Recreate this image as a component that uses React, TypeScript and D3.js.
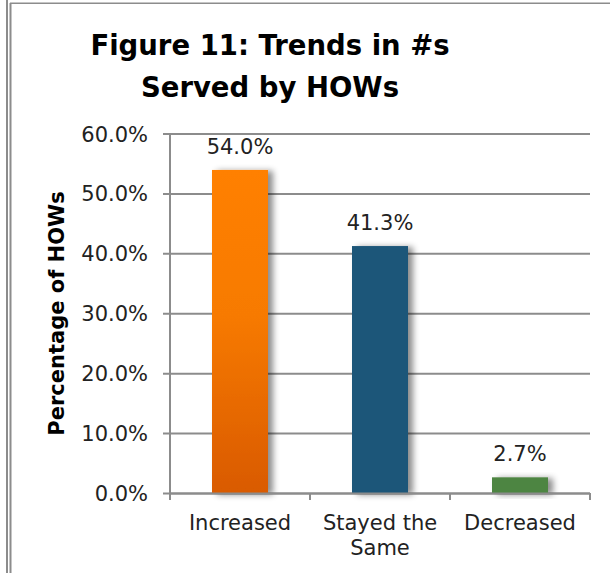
import React from "react";
import * as d3 from "d3";

const categories = ["Increased", "Stayed the Same", "Decreased"];
const categoryLines = [["Increased"], ["Stayed the", "Same"], ["Decreased"]];
const values = [54.0, 41.3, 2.7];
const yTicks = [0, 10, 20, 30, 40, 50, 60];
const titleLines = ["Figure 11: Trends in #s", "Served by HOWs"];
const yTitle = "Percentage of HOWs";

const W = 610;
const H = 573;
const FONT = "'DejaVu Sans', Verdana, sans-serif";
const GRID = "#8c8c8c";
const FS = 21;

export default function App() {
  const x = d3.scaleBand<string>().domain(categories).range([170, 590]).paddingInner(0).paddingOuter(0);
  const y = d3.scaleLinear().domain([0, 60]).range([493.5, 134]);
  const barW = x.bandwidth() * 0.4;
  const fills = ["url(#orangeGrad)", "#1f5779", "#4e8542"];
  const edges = [...categories.map((c) => x(c) as number), 590];

  return (
    <svg width={W} height={H} style={{ position: "absolute", left: 0, top: 0, background: "#fff" }}>
      <defs>
        <linearGradient id="orangeGrad" x1="0" y1="0" x2="0" y2="1">
          <stop offset="0" stopColor="#ff8000" />
          <stop offset="0.45" stopColor="#f77a00" />
          <stop offset="1" stopColor="#d95a00" />
        </linearGradient>
        <filter id="shadow" x="-30%" y="-30%" width="160%" height="160%">
          <feDropShadow dx="5" dy="1" stdDeviation="3" floodColor="#000" floodOpacity="0.45" />
        </filter>
      </defs>
      <rect x={0} y={0} width={W} height={H} fill="#fff" />
      {/* frame */}
      <line x1={7} y1={0} x2={7} y2={H} stroke={GRID} strokeWidth={2} />
      <line x1={10.5} y1={3} x2={10.5} y2={H} stroke={GRID} strokeWidth={2} />
      <line x1={10} y1={3.3} x2={W} y2={3.3} stroke={GRID} strokeWidth={1.5} />

      {/* title */}
      {titleLines.map((t, i) => (
        <text key={t} x={270} y={55 + i * 42} textAnchor="middle" fontFamily={FONT} fontWeight="bold" fontSize={27.5} fill="#000">
          {t}
        </text>
      ))}

      {/* gridlines and y ticks */}
      {yTicks.map((t) => (
        <g key={t}>
          <line x1={163} x2={590} y1={y(t)} y2={y(t)} stroke={GRID} strokeWidth={2} />
          <text x={148} y={y(t)} dy="0.36em" textAnchor="end" fontFamily={FONT} fontSize={FS} fill="#222">
            {d3.format(".1f")(t) + "%"}
          </text>
        </g>
      ))}
      {/* y axis */}
      <line x1={170} x2={170} y1={134} y2={500} stroke={GRID} strokeWidth={2} />
      {/* x ticks */}
      {edges.map((e, i) => (
        <line key={i} x1={e} x2={e} y1={493} y2={500} stroke={GRID} strokeWidth={2} />
      ))}

      {/* bars */}
      {categories.map((c, i) => {
        const cx = (x(c) as number) + x.bandwidth() / 2;
        return (
          <g key={c}>
            <rect
              x={cx - barW / 2}
              y={y(values[i])}
              width={barW}
              height={y(0) - y(values[i])}
              fill={fills[i]}
              filter="url(#shadow)"
            />
            <text x={cx} y={y(values[i]) - 16} textAnchor="middle" fontFamily={FONT} fontSize={FS} fill="#222">
              {d3.format(".1f")(values[i]) + "%"}
            </text>
          </g>
        );
      })}
      {/* redraw baseline over shadows */}
      <line x1={170} x2={590} y1={y(0)} y2={y(0)} stroke={GRID} strokeWidth={2} />

      {/* category labels */}
      {categories.map((c, i) => {
        const cx = (x(c) as number) + x.bandwidth() / 2;
        return categoryLines[i].map((ln, j) => (
          <text key={c + j} x={cx} y={530 + j * 25} textAnchor="middle" fontFamily={FONT} fontSize={FS} fill="#222">
            {ln}
          </text>
        ));
      })}

      {/* y title */}
      <text
        transform={`translate(64, 313.5) rotate(-90)`}
        textAnchor="middle"
        fontFamily={FONT}
        fontWeight="bold"
        fontSize={21}
        fill="#000"
      >
        {yTitle}
      </text>
    </svg>
  );
}
